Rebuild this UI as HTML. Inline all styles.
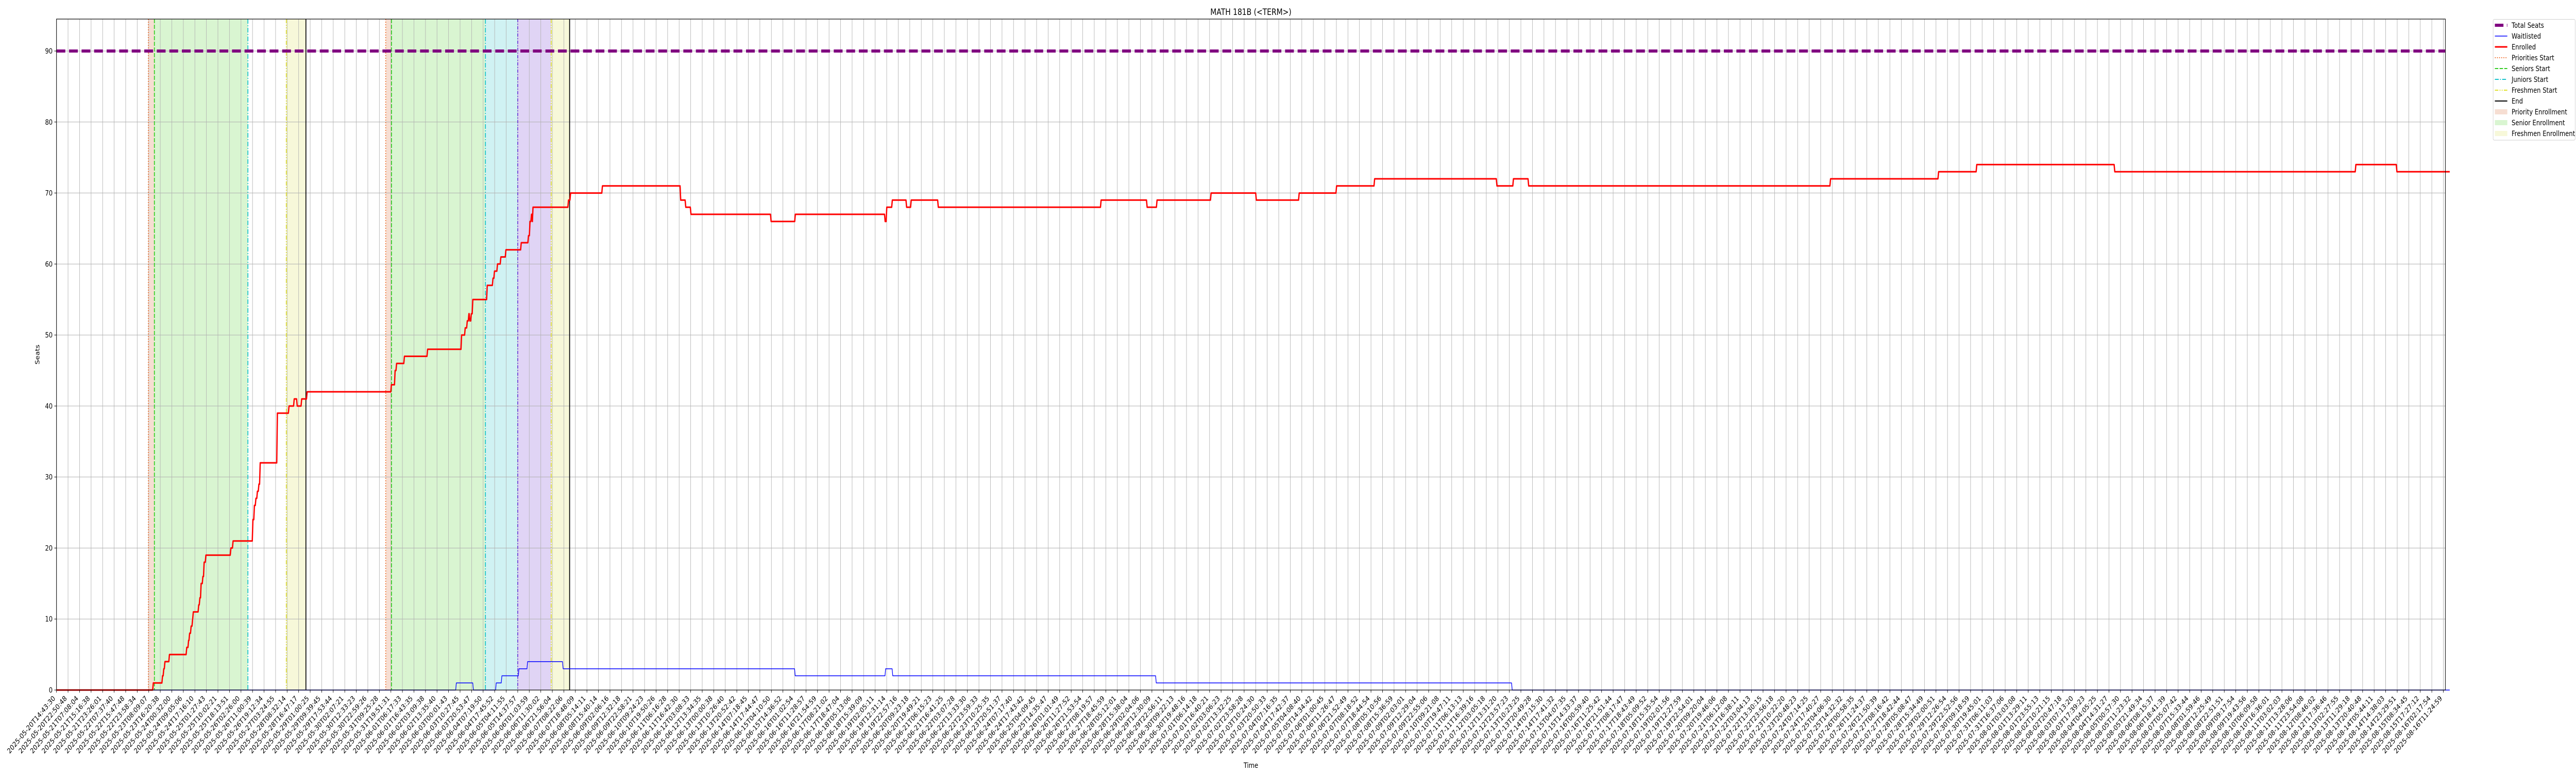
<!DOCTYPE html>
<html>
<head>
<meta charset="utf-8">
<style>
  html, body { margin: 0; padding: 0; background: #fff; overflow: hidden; width: 100vw; height: 100vh; }
  svg { display: block; width: 100vw; height: 100vh; font-family: "DejaVu Sans", "Liberation Sans", sans-serif; }
</style>
</head>
<body>
<svg id="chart" xmlns="http://www.w3.org/2000/svg" viewBox="0 0 6000 1500" preserveAspectRatio="none">
  <rect x="0" y="0" width="6000" height="1500" fill="#ffffff"/>
  <g id="spans"></g>
  <g id="grid"></g>
  <g id="vlines"></g>
  <g id="series"></g>
  <g id="axes"></g>
  <text x="2913.6" y="29" font-size="16.7" text-anchor="middle">MATH 181B (&lt;TERM&gt;)</text>
  <text x="2913.6" y="1490" font-size="13.9" text-anchor="middle">Time</text>
  <text transform="translate(92,688) rotate(-90)" font-size="13.9" text-anchor="middle">Seats</text>
  <g id="legend"></g>
</svg>
<script>
// ---- data (x in tick-index units, y in seats) ----
const totalSeats = 90;
const enrolledX = [0,8.34,9.14,9.25,9.35,9.74,11.24,11.4,11.49,11.62,11.75,11.81,12.28,12.38,12.49,12.64,12.75,12.90,15.07,15.26,16.98,17.11,17.24,17.37,17.50,17.61,19.10,20.11,20.56,20.82,21.21,21.68,28.99,29.31,29.44,30.12,32.13,35.08,35.39,35.57,35.71,35.79,35.92,36.05,37.30,37.80,37.93,38.19,38.48,38.92,40.25,40.88,41.01,41.14,41.22,41.27,44.35,44.53,47.29,54.08,54.52,54.97,61.92,64.02,71.81,71.95,72.43,73.67,74.07,76.42,90.54,94.53,95.39,100.08,104.0,107.72,110.96,114.26,124.87,126.3,127.62,153.8,163.17,166.48,178.45,199.36,202.92,207.5];
const enrolledY = [0,1,2,3,4,5,6,7,8,9,10,11,12,13,15,16,18,19,20,21,24,26,27,28,29,32,39,40,41,40,41,42,43,45,46,47,48,50,51,52,53,52,53,55,57,58,59,60,61,62,63,64,66,67,66,68,69,70,71,69,68,67,66,67,66,68,69,68,69,68,69,68,69,70,69,70,71,72,71,72,71,72,73,74,73,74,73,73];
const waitX = [0,34.62,36.1,38.08,38.57,40.05,40.8,43.88,64.01,71.85,72.47,95.32,126.19,207.5];
const waitY = [0,1,0,1,2,3,4,3,2,3,2,1,0,0];
const phaseNames = ["Priorities Start","Seniors Start","Juniors Start","Sophomores Start","Freshmen Start","End"];
const cycle1 = [7.97, 8.49, 16.6, null, 19.93, 21.63];
const cycle2 = [28.55, 29.05, 37.2, 40.0, 42.9, 44.5];
const yTicks = [0,10,20,30,40,50,60,70,80,90];
const headLabels = ["2025-05-20T14:43:30","2025-05-20T22:50:48","2025-05-21T07:08:04","2025-05-21T15:16:38","2025-05-21T23:26:01","2025-05-22T07:37:40","2025-05-22T15:47:48","2025-05-22T23:58:34","2025-05-23T08:09:07","2025-05-23T16:20:38","2025-05-24T00:32:00","2025-05-24T09:05:06","2025-05-24T17:16:10","2025-05-25T01:27:43","2025-05-25T10:02:21","2025-05-25T18:13:51","2025-05-26T02:26:00","2025-05-26T11:00:39","2025-05-26T19:12:34","2025-05-27T03:24:55","2025-05-28T08:32:14","2025-05-28T16:47:17","2025-05-29T01:00:25","2025-05-29T09:39:45","2025-05-29T17:53:44","2025-05-30T02:07:21"];
const tailLabels = ["2025-08-11T23:54:08","2025-08-12T08:46:02","2025-08-12T17:36:46","2025-08-13T02:27:55","2025-08-13T11:29:18","2025-08-13T20:40:48","2025-08-14T05:44:11","2025-08-14T14:38:03","2025-08-14T23:29:51","2025-08-15T08:34:45","2025-08-15T17:27:12","2025-08-16T02:17:54","2025-08-16T11:24:59"];
const tickCount = 208;

// ---- geometry ----
const L = 131.6, R = 5695.7, T = 37, B = 1339;
const tickStep = (5691 - L) / 207;
const xs = t => L + t * tickStep;
const ys = v => B - v * (B - T) / 94.5;
const NS = "http://www.w3.org/2000/svg";
function mk(tag, attrs, parent) {
  const e = document.createElementNS(NS, tag);
  for (const k in attrs) e.setAttribute(k, attrs[k]);
  parent.appendChild(e);
  return e;
}

// tick labels: known head + tail, middle interpolated in time
function parseT(s){ return Date.parse(s + "Z"); }
function fmt(ms){ return new Date(Math.round(ms/1000)*1000).toISOString().slice(0,19); }
const tickLabels = [];
{
  const a = headLabels.length - 1, b = tickCount - tailLabels.length;
  const ta = parseT(headLabels[a]), tb = parseT(tailLabels[0]);
  for (let i = 0; i < tickCount; i++) {
    if (i <= a) tickLabels.push(headLabels[i]);
    else if (i >= b) tickLabels.push(tailLabels[i - b]);
    else tickLabels.push(fmt(ta + (tb - ta) * (i - a) / (b - a)));
  }
}

// ---- shading ----
const spans = document.getElementById("spans");
const spanColors = ["rgba(219,123,75,0.25)","rgba(103,215,71,0.25)","rgba(67,203,207,0.25)","rgba(131,83,215,0.25)","rgba(223,227,103,0.25)"];
const spanNames = ["priority-enrollment","senior-enrollment","junior-enrollment","sophomore-enrollment","freshmen-enrollment"];
function drawSpans(c, idx) {
  const pairs = [[0,1,0],[1,2,1],[4,5,4]];
  if (c[3] !== null) { pairs.push([2,3,2]); pairs.push([3,4,3]); }
  pairs.forEach(p => {
    const r = mk("rect", {x: xs(c[p[0]]), y: T, width: xs(c[p[1]]) - xs(c[p[0]]), height: B - T, fill: spanColors[p[2]]}, spans);
    
    
  });
}
drawSpans(cycle1, 1);
drawSpans(cycle2, 2);

// ---- grid ----
const grid = document.getElementById("grid");
for (let i = 0; i < tickCount; i++) {
  const g = mk("line", {x1: xs(i), x2: xs(i), y1: T, y2: B, stroke: "#b0b0b0", "stroke-width": 1}, grid);
  
  
}
yTicks.forEach(v => {
  const g = mk("line", {x1: L, x2: R, y1: ys(v), y2: ys(v), stroke: "#b0b0b0", "stroke-width": 1}, grid);
  
  
});

// ---- phase lines ----
const vlines = document.getElementById("vlines");
const lineStyles = [
  {stroke: "#f07030", dash: "2,3", w: 2},
  {stroke: "#33cc22", dash: "8,3", w: 2},
  {stroke: "#17c3cc", dash: "9,3,2,3", w: 2},
  {stroke: "#6a3bd6", dash: "6,3,2,3", w: 2},
  {stroke: "#e0e030", dash: "8,3,2,3,2,3", w: 2},
  {stroke: "#000000", dash: "", w: 2}
];
function drawPhase(c, idx) {
  c.forEach((t, k) => {
    if (t === null) return;
    const s = lineStyles[k];
    const a = {x1: xs(t), x2: xs(t), y1: T, y2: B, stroke: s.stroke, "stroke-width": s.w};
    if (s.dash) a["stroke-dasharray"] = s.dash;
    const l = mk("line", a, vlines);
    
    
  });
}
drawPhase(cycle1, 1);
drawPhase(cycle2, 2);

// ---- series ----
const series = document.getElementById("series");
function stepPath(X, Y) {
  let d = "M" + xs(X[0]).toFixed(1) + "," + ys(Y[0]).toFixed(1);
  for (let i = 1; i < X.length; i++) {
    d += " L" + xs(X[i]).toFixed(1) + "," + ys(Y[i-1]).toFixed(1);
    d += " L" + (xs(X[i]) + 1.5).toFixed(1) + "," + ys(Y[i]).toFixed(1);
  }
  return d;
}
const ts = mk("line", {x1: L, x2: R, y1: ys(totalSeats), y2: ys(totalSeats), stroke: "#800080", "stroke-width": 6, "stroke-dasharray": "20.5,8.7"}, series);


const wl = mk("path", {d: stepPath(waitX, waitY), fill: "none", stroke: "#0000ff", "stroke-width": 1.5, "stroke-linejoin": "round"}, series);


const en = mk("path", {d: stepPath(enrolledX, enrolledY), fill: "none", stroke: "#ff0000", "stroke-width": 3, "stroke-linejoin": "round"}, series);



// ---- axes ----
const axes = document.getElementById("axes");
const frame = mk("rect", {x: L, y: T, width: R - L, height: B - T, fill: "none", stroke: "#000", "stroke-width": 1.2}, axes);


yTicks.forEach(v => {
  const tk = mk("line", {x1: L - 5, x2: L, y1: ys(v), y2: ys(v), stroke: "#000", "stroke-width": 1}, axes);
  
  
  const tx = mk("text", {x: L - 9, y: ys(v) + 5, "font-size": 13.9, "text-anchor": "end"}, axes);
  tx.textContent = String(v);
  
  
});
for (let i = 0; i < tickCount; i++) {
  const x = xs(i);
  const tk = mk("line", {x1: x, x2: x, y1: B, y2: B + 5, stroke: "#000", "stroke-width": 1}, axes);
  
  
  const tx = mk("text", {transform: "translate(" + (x - 2).toFixed(1) + "," + (B + 17) + ") rotate(-45)", "font-size": 13.9, "text-anchor": "end"}, axes);
  tx.textContent = tickLabels[i];
  
  
}

// ---- legend ----
const legend = document.getElementById("legend");
const lb = mk("rect", {x: 5807, y: 37.5, width: 191, height: 234.5, rx: 3, fill: "#fff", "fill-opacity": 0.8, stroke: "#d0d0d0", "stroke-width": 1}, legend);


const legendItems = [
  {label: "Total Seats", type: "line", stroke: "#800080", w: 6, dash: "20,8"},
  {label: "Waitlisted", type: "line", stroke: "#0000ff", w: 1.5, dash: ""},
  {label: "Enrolled", type: "line", stroke: "#ff0000", w: 3, dash: ""},
  {label: "Priorities Start", type: "line", stroke: "#f07030", w: 2, dash: "2,3"},
  {label: "Seniors Start", type: "line", stroke: "#33cc22", w: 2, dash: "8,3"},
  {label: "Juniors Start", type: "line", stroke: "#17c3cc", w: 2, dash: "9,3,2,3"},
  {label: "Freshmen Start", type: "line", stroke: "#e0e030", w: 2, dash: "8,3,2,3,2,3"},
  {label: "End", type: "line", stroke: "#000000", w: 2, dash: ""},
  {label: "Priority Enrollment", type: "patch", fill: "rgba(219,123,75,0.25)"},
  {label: "Senior Enrollment", type: "patch", fill: "rgba(103,215,71,0.25)"},
  {label: "Freshmen Enrollment", type: "patch", fill: "rgba(223,227,103,0.25)"}
];
legendItems.forEach((it, i) => {
  const cy = 49 + i * 21;
  const g = mk("g", {}, legend);
  
  
  if (it.type === "line") {
    const a = {x1: 5811, x2: 5840, y1: cy, y2: cy, stroke: it.stroke, "stroke-width": it.w};
    if (it.dash) a["stroke-dasharray"] = it.dash;
    mk("line", a, g);
  } else {
    mk("rect", {x: 5811, y: cy - 5, width: 29, height: 10, fill: it.fill}, g);
  }
  const t = mk("text", {x: 5850, y: cy + 5, "font-size": 13.9}, g);
  t.textContent = it.label;
});
</script>
</body>
</html>
